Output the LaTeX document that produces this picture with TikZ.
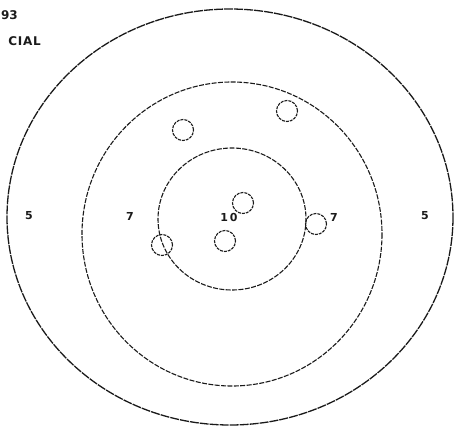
\documentclass[tikz,border=0pt]{standalone}
\usepackage{fontspec}
\setsansfont{DejaVu Sans}
\usepackage{tikz}
\usetikzlibrary{shapes.geometric}
\definecolor{tgink}{HTML}{1A1A1A}

\begin{document}
\begin{tikzpicture}[
  x=1pt,y=-1pt,
  font=\sffamily\bfseries\fontsize{11}{12}\selectfont,
  ring/.style={draw=tgink,line width=1.1pt,dash pattern=on 5pt off 1.4pt},
  outring/.style={draw=tgink,line width=1.3pt,dash pattern=on 9pt off 1pt},
  hole/.style={circle,draw=tgink,line width=1.1pt,dash pattern=on 3pt off 1pt,minimum size=21pt,inner sep=0pt},
  score/.style={text=tgink,inner sep=0pt},
  hdr/.style={text=tgink,inner sep=0pt,anchor=east,font=\sffamily\bfseries\fontsize{12}{13}\selectfont}]
\useasboundingbox (0,0) rectangle (456,429);
% rings
\draw[outring] (230,217) ellipse [x radius=223,y radius=208];
\draw[ring] (232,234) ellipse [x radius=150,y radius=152];
\draw[ring] (232,219) ellipse [x radius=74,y radius=71];
% header text (cut off at the left)
\node[hdr] (yr) at (18,15) {93};
\node[hdr] (off) at (41,41) {\addfontfeatures{LetterSpace=6}CIAL};
% ring scores
\node[score] (s5l) at (29,216) {5};
\node[score] (s7l) at (130,216) {7};
\node[score] (s10) at (229,217) {1\,0};
\node[score] (s7r) at (334,217) {7};
\node[score] (s5r) at (425,216) {5};
% shot holes
\node[hole] (h1) at (183,130) {};
\node[hole] (h2) at (287,111) {};
\node[hole] (h3) at (243,203) {};
\node[hole] (h4) at (225,241) {};
\node[hole] (h5) at (162,245) {};
\node[hole] (h6) at (316,224) {};
\end{tikzpicture}
\end{document}
